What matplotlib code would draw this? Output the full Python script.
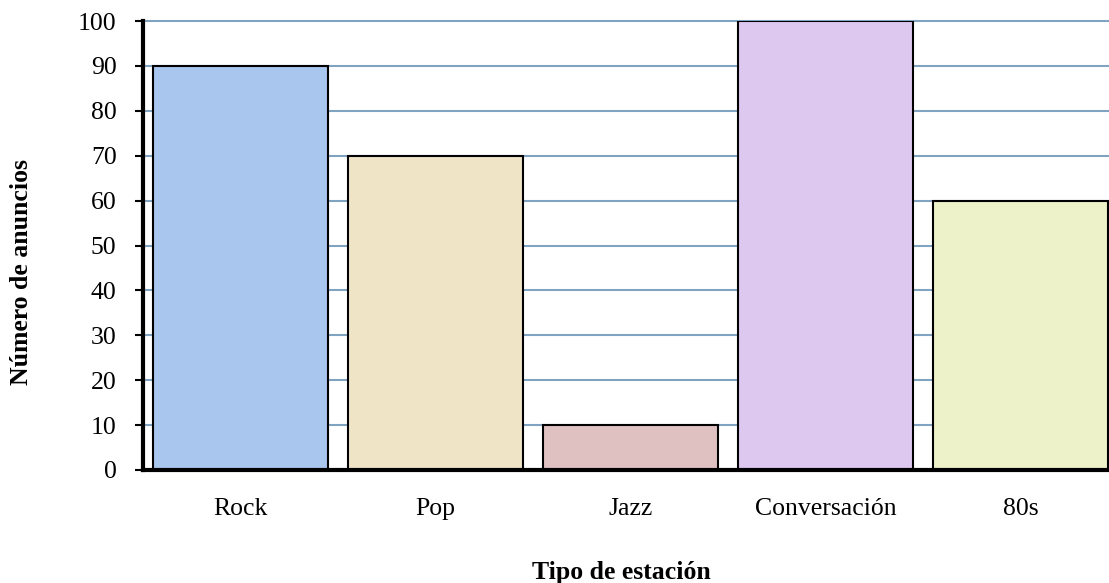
import matplotlib
matplotlib.use("Agg")
import matplotlib.pyplot as plt

categories = ["Rock", "Pop", "Jazz", "Conversación", "80s"]
values = [90, 70, 10, 100, 60]
colors = ["#A9C6EE", "#F0E4C7", "#DFC1C1", "#DDC8F0", "#EEF2C8"]
yticks = [0, 10, 20, 30, 40, 50, 60, 70, 80, 90, 100]

plt.rcParams['font.family'] = ['Liberation Serif', 'DejaVu Serif']

W, H = 1109, 583
fig = plt.figure(figsize=(W/100, H/100), dpi=100)
left, right, top, bottom = 143, 1118, 21, 470
ax = fig.add_axes([left/W, 1 - bottom/H, (right-left)/W, (bottom-top)/H])

x = range(len(categories))
ax.bar(x, values, width=0.9, color=colors, edgecolor="black", linewidth=1.5, zorder=3)
ax.set_xlim(-0.5, 4.5)
ax.set_ylim(0, 100)
ax.set_yticks(yticks)
ax.set_xticks(list(x))
ax.set_xticklabels(categories, fontsize=18.5)
ax.tick_params(axis='x', length=0, pad=20)
ax.tick_params(axis='y', length=6, width=1.5, direction='out', labelsize=18.5, pad=13)
ax.yaxis.grid(True, color="#7FA3C0", linewidth=1.5, zorder=0)
for gl in ax.get_ygridlines():
    gl.set_clip_on(False)
ax.set_axisbelow(True)
for s in ["top", "right"]:
    ax.spines[s].set_visible(False)
ax.spines["left"].set_linewidth(3)
ax.spines["bottom"].set_linewidth(3)
ax.spines["left"].set_zorder(4)
ax.spines["bottom"].set_zorder(4)

fig.text(621/W, 1 - 573/H, "Tipo de estación", ha="center", va="center",
         fontsize=18.5, fontweight="bold")
fig.text(22/W, 1 - 272/H, "Número de anuncios", ha="center", va="center",
         rotation=90, fontsize=18.5, fontweight="bold")

fig.savefig("out.png", dpi=100)
